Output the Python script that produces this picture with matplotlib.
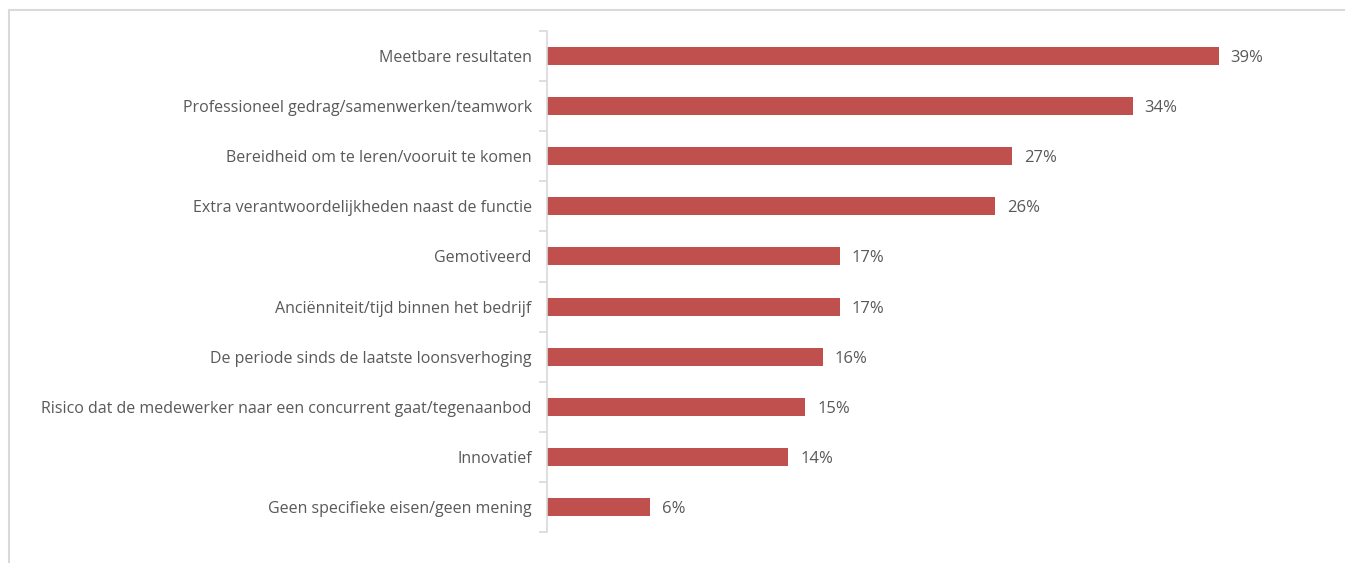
import matplotlib.pyplot as plt
from matplotlib.patches import Rectangle

labels = ['Meetbare resultaten',
          'Professioneel gedrag/samenwerken/teamwork',
          'Bereidheid om te leren/vooruit te komen',
          'Extra verantwoordelijkheden naast de functie',
          'Gemotiveerd',
          'Anciënniteit/tijd binnen het bedrijf',
          'De periode sinds de laatste loonsverhoging',
          'Risico dat de medewerker naar een concurrent gaat/tegenaanbod',
          'Innovatief',
          'Geen specifieke eisen/geen mening']
values = [39, 34, 27, 26, 17, 17, 16, 15, 14, 6]

bar_color = '#C0504D'
text_color = '#595959'

plt.rcParams['font.family'] = ['Open Sans', 'DejaVu Sans']

W, H = 1345, 563
fig = plt.figure(figsize=(W / 100, H / 100), dpi=100)

# light frame around the chart area (cut off at right/bottom)
fig.patches.append(Rectangle((9 / W, -0.1), 1.2, (H - 10) / H + 0.1,
                             transform=fig.transFigure, fill=False,
                             edgecolor='#D9D9D9', lw=1.5))

ax = fig.add_axes([547 / W, 31 / H, (1322 - 547) / W, (532 - 31) / H])
pos = list(range(len(labels)))
ax.barh(pos, values, height=0.36, color=bar_color)
ax.set_xlim(0, 45)
ax.set_ylim(len(labels) - 0.5, -0.5)

for s in ['top', 'right', 'bottom']:
    ax.spines[s].set_visible(False)
ax.spines['left'].set_color('#D9D9D9')
ax.spines['left'].set_linewidth(1.2)
ax.set_xticks([])
ax.set_yticks(pos)
ax.set_yticklabels(labels, fontsize=11.5, color=text_color)
ax.tick_params(axis='y', which='major', length=0, pad=11)
ax.set_yticks([p - 0.5 for p in pos] + [len(labels) - 0.5], minor=True)
ax.tick_params(axis='y', which='minor', length=6, color='#D9D9D9', width=1.2)

for p, v in zip(pos, values):
    ax.text(v + 0.7, p + 0.04, f'{v}%', va='center', ha='left',
            fontsize=12, color=text_color)

fig.savefig('out.png', dpi=100)
